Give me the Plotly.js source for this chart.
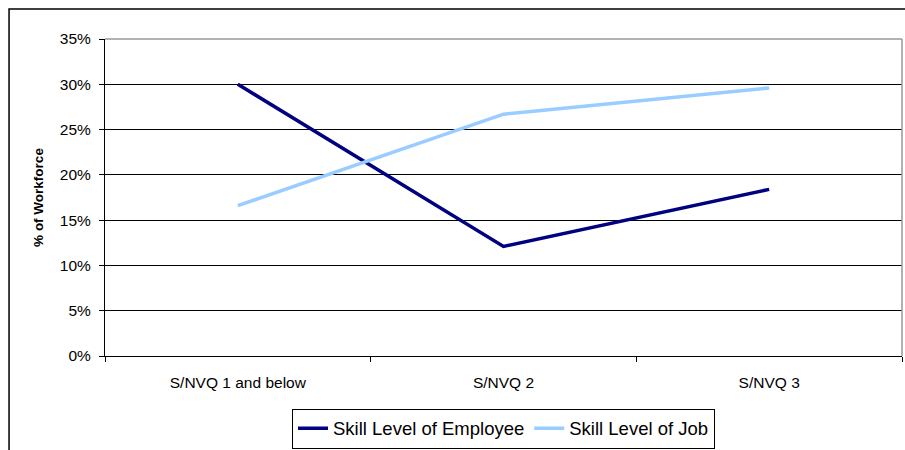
<!DOCTYPE html>
<html><head><meta charset="utf-8">
<script src="https://cdn.plot.ly/plotly-3.0.1.min.js"></script>
<style>html,body{margin:0;padding:0;background:#fff;}#chart{width:905px;height:450px;}</style>
</head><body><div id="chart"></div>
<script>
const categories = ["S/NVQ 1 and below", "S/NVQ 2", "S/NVQ 3"];
const employeeSkill = [0.300, 0.121, 0.184];
const jobSkill = [0.166, 0.267, 0.296];
const seriesNames = ["Skill Level of Employee", "Skill Level of Job"];

const traces = [
  {x: categories, y: employeeSkill, name: seriesNames[0], type: "scatter", mode: "lines",
   line: {color: "#000080", width: 3.5}},
  {x: categories, y: jobSkill, name: seriesNames[1], type: "scatter", mode: "lines",
   line: {color: "#99CCFF", width: 3.5}}
];

const layout = {
  width: 905, height: 450,
  margin: {l: 105, r: 3, t: 39, b: 94, autoexpand: false},
  paper_bgcolor: "#fff", plot_bgcolor: "#fff",
  font: {family: "Liberation Sans, Arial, sans-serif", color: "#000", size: 15.5},
  showlegend: true,
  legend: {orientation: "h", x: 0.5, xanchor: "center", yref: "container", y: 0.092, yanchor: "top",
    bordercolor: "#000", borderwidth: 1, font: {size: 18.5}, bgcolor: "#fff",
    tracegroupgap: 0},
  xaxis: {type: "category", range: [-0.5, 2.5], showgrid: false, showline: true, linecolor: "#000", linewidth: 1,
    ticks: "outside", tickson: "boundaries", ticklen: 5, tickcolor: "#000",
    tickfont: {size: 15.5}, zeroline: false, fixedrange: true, ticklabelstandoff: 12},
  yaxis: {range: [0, 0.35], dtick: 0.05, tick0: 0, tickformat: ".0%",
    showgrid: true, gridcolor: "#000", gridwidth: 1,
    showline: true, linecolor: "#000", linewidth: 1,
    ticks: "outside", ticklen: 5, tickcolor: "#000", zeroline: false,
    tickfont: {size: 15.5}, ticklabelstandoff: 5,
    title: {text: "<b>% of Workforce</b>", font: {size: 13.5}, standoff: 13}},
  shapes: [
    {type: "line", xref: "paper", yref: "paper", x0: 0, x1: 1, y0: 1, y1: 1, line: {color: "#999", width: 1.5}, layer: "above"},
    {type: "line", xref: "paper", yref: "paper", x0: 1, x1: 1, y0: 0, y1: 1, line: {color: "#999", width: 1.5}, layer: "above"},
    {type: "rect", xref: "paper", yref: "paper", x0: -0.1204, x1: 1.02, y0: -0.33, y1: 1.0946, line: {color: "#000", width: 1.5}, layer: "below"}
  ]
};

Plotly.newPlot("chart", traces, layout, {staticPlot: true, displayModeBar: false});
</script></body></html>
